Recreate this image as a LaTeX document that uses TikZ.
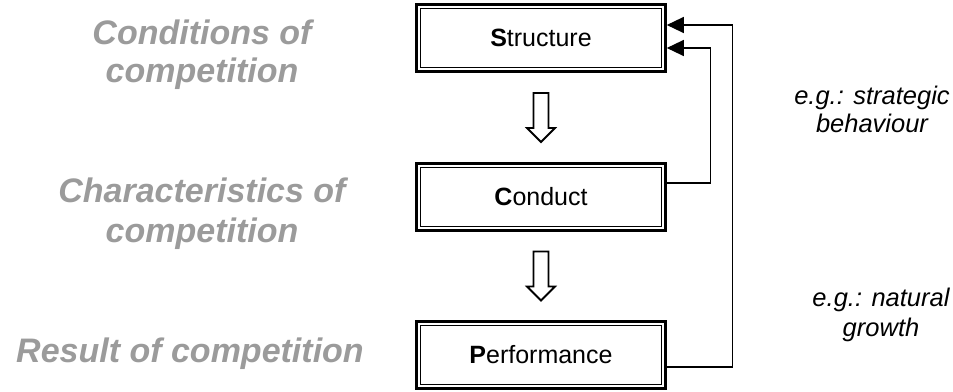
\documentclass[tikz,border=0pt]{standalone}
\usepackage{fontspec}
\setmainfont{Liberation Sans}
\usetikzlibrary{arrows.meta,calc}
\definecolor{labelgray}{RGB}{155,155,155}
\tikzset{
  scpbox/.style={draw, line width=2.6pt, minimum width=249pt, minimum height=67pt,
    inner sep=0pt, font=\fontsize{25}{30}\selectfont},
  innerframe/.style={line width=1.3pt},
  sidelabel/.style={text=labelgray, anchor=base, inner sep=0pt,
    font=\fontsize{34}{38}\selectfont\bfseries\itshape},
  notelabel/.style={anchor=base, inner sep=0pt, font=\fontsize{25.5}{28}\selectfont\itshape},
  fb/.style={line width=1.3pt, -{Triangle[length=17pt,width=16pt]}},
  hollowarrow/.pic={
    \draw[line width=1.8pt, line join=miter]
      (-7.5pt,24.5pt) -- (7.5pt,24.5pt) -- (7.5pt,-10.5pt) -- (14pt,-10.5pt)
      -- (0pt,-24.5pt) -- (-14pt,-10.5pt) -- (-7.5pt,-10.5pt) -- cycle;
  }
}
\begin{document}
\begin{tikzpicture}[x=1pt,y=1pt]
\useasboundingbox (0,0) rectangle (953,391);

% the three stages of the paradigm
\node[scpbox] (s) at (541,353) {\textbf{S}tructure};
\node[scpbox] (c) at (541,194) {\textbf{C}onduct};
\node[scpbox] (p) at (541,36)  {\textbf{P}erformance};
\foreach \n in {s,c,p}
  \draw[innerframe] ([shift={(5pt,-5pt)}]\n.north west) rectangle ([shift={(-5pt,5pt)}]\n.south east);

% causal flow
\pic at ($(s.south)!0.5!(c.north)$) {hollowarrow};
\pic at ($(c.south)!0.5!(p.north)$) {hollowarrow};

% feedback loops
\draw[fb] ([yshift=-12pt]p.east) -- ++(66,0) |- ([yshift=13pt]s.east);
\draw[fb] ([yshift=14pt]c.east) -- ++(44,0) |- ([yshift=-10pt]s.east);

% descriptions on the left
\node[sidelabel] (l1a) at (202,346) {Conditions of};
\node[sidelabel] (l1b) at (202,308) {competition};
\node[sidelabel] (l2a) at (202,188) {Characteristics of};
\node[sidelabel] (l2b) at (202,148) {competition};
\node[sidelabel] (l3)  at (190,29)  {Result of competition};

% examples on the right
\node[notelabel] (n1a) at (872,286) {e.g.: strategic};
\node[notelabel] (n1b) at (872,258) {behaviour};
\node[notelabel] (n2a) at (881,84)  {e.g.: natural};
\node[notelabel] (n2b) at (881,55)  {growth};
\end{tikzpicture}
\end{document}
